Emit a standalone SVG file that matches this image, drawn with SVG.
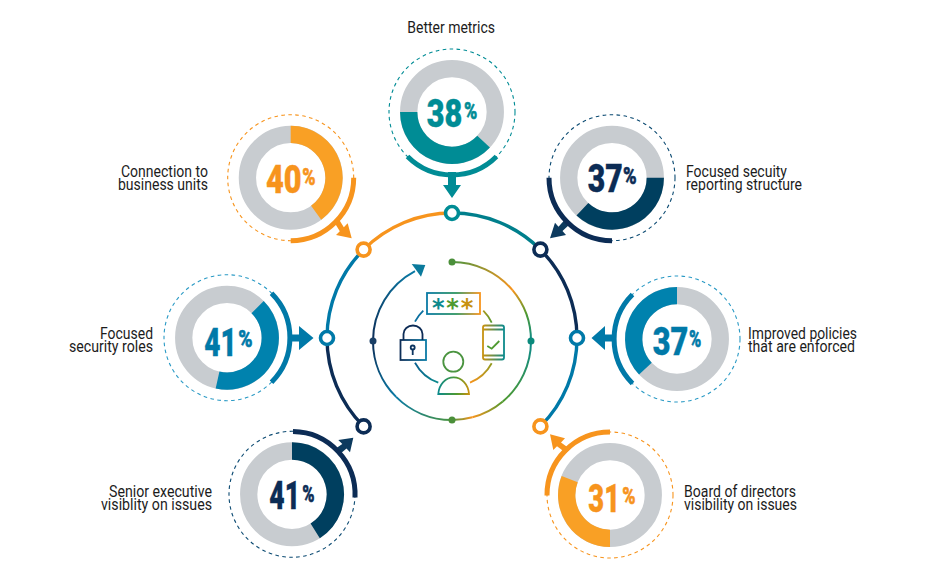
<svg xmlns="http://www.w3.org/2000/svg" width="940" height="582" viewBox="0 0 940 582">
<style>
text{font-family:"Roboto","Liberation Sans",sans-serif}
.lb{font-size:16px;font-weight:400;fill:#1c1c1c}
.n{font-size:38px;font-weight:900;stroke:currentColor;stroke-width:.4}
.p{font-size:23px;font-weight:900;stroke:currentColor;stroke-width:.5}
.g{fill:none;stroke:#c8ccd0;stroke-width:17.3}
.v{fill:none;stroke-width:17.3}
.d{fill:none;stroke-width:1.1;stroke-dasharray:3.6 3.4}
.t{fill:none;stroke-width:5}
.r{fill:none;stroke-width:3.4}
.h{fill:#fff;stroke-width:3.6}
.i{fill:none;stroke-width:2}
.ic{fill:none;stroke-width:1.8}
.teal{color:#008c95}.or{color:#f7941d}.nv{color:#0c2c55}.bl{color:#0079a8}
.st{stroke:currentColor}.fl{fill:currentColor}
</style>
<defs>
<linearGradient id="s1" gradientUnits="userSpaceOnUse" x1="452" y1="262" x2="512" y2="290"><stop offset="0" stop-color="#4b9440"/><stop offset="1" stop-color="#f7941d"/></linearGradient>
<linearGradient id="s2" gradientUnits="userSpaceOnUse" x1="512" y1="290" x2="531" y2="341"><stop offset="0" stop-color="#f7941d"/><stop offset=".5" stop-color="#4f9a30"/><stop offset="1" stop-color="#0b8a8c"/></linearGradient>
<linearGradient id="s3" gradientUnits="userSpaceOnUse" x1="531" y1="341" x2="503" y2="401"><stop offset="0" stop-color="#0b8a8c"/><stop offset="1" stop-color="#4f9a30"/></linearGradient>
<linearGradient id="s4" gradientUnits="userSpaceOnUse" x1="503" y1="401" x2="472" y2="417"><stop offset="0" stop-color="#4f9a30"/><stop offset="1" stop-color="#f7941d"/></linearGradient>
<linearGradient id="s5" gradientUnits="userSpaceOnUse" x1="472" y1="417" x2="452" y2="420"><stop offset="0" stop-color="#f7941d"/><stop offset="1" stop-color="#4b9440"/></linearGradient>
<linearGradient id="s6" gradientUnits="userSpaceOnUse" x1="452" y1="420" x2="396" y2="397"><stop offset="0" stop-color="#4b9440"/><stop offset="1" stop-color="#0a7aa5"/></linearGradient>
<linearGradient id="s7" gradientUnits="userSpaceOnUse" x1="396" y1="397" x2="373" y2="341"><stop offset="0" stop-color="#0a7aa5"/><stop offset="1" stop-color="#0d2c56"/></linearGradient>
<linearGradient id="s8" gradientUnits="userSpaceOnUse" x1="373" y1="341" x2="415" y2="272"><stop offset="0" stop-color="#0d2c56"/><stop offset="1" stop-color="#0a7aa5"/></linearGradient>
<linearGradient id="ib" gradientUnits="userSpaceOnUse" x1="427" y1="0" x2="480" y2="0"><stop offset="0" stop-color="#0a7aa5"/><stop offset=".55" stop-color="#2f9560"/><stop offset="1" stop-color="#f7941d"/></linearGradient>
<linearGradient id="il" gradientUnits="userSpaceOnUse" x1="400" y1="0" x2="426" y2="0"><stop offset="0" stop-color="#0d2c56"/><stop offset="1" stop-color="#0a7aa5"/></linearGradient>
<linearGradient id="ip" gradientUnits="userSpaceOnUse" x1="483" y1="0" x2="504" y2="0"><stop offset="0" stop-color="#c8920f"/><stop offset="1" stop-color="#0b8a8c"/></linearGradient>
<linearGradient id="iu" gradientUnits="userSpaceOnUse" x1="438" y1="0" x2="469" y2="0"><stop offset="0" stop-color="#0b8a8c"/><stop offset=".6" stop-color="#4f9a30"/><stop offset="1" stop-color="#c8920f"/></linearGradient>
<linearGradient id="ia" gradientUnits="userSpaceOnUse" x1="484" y1="311" x2="492" y2="323"><stop offset="0" stop-color="#a9991c"/><stop offset="1" stop-color="#4f9a30"/></linearGradient>
<linearGradient id="ic" gradientUnits="userSpaceOnUse" x1="492" y1="363" x2="470" y2="383"><stop offset="0" stop-color="#8f9a20"/><stop offset="1" stop-color="#f7941d"/></linearGradient>
<linearGradient id="id" gradientUnits="userSpaceOnUse" x1="438" y1="383" x2="415" y2="363"><stop offset="0" stop-color="#0b8a8c"/><stop offset="1" stop-color="#0a5f90"/></linearGradient>
</defs>

<g id="connectors">
<g id="outer-ring">
<path class="r" stroke="#f7941d" d="M363.600 249.600A125 125 0 0 1 452 213"/>
<path class="r" stroke="#007f8c" d="M452 213A125 125 0 0 1 540.400 249.600"/>
<path class="r" stroke="#0c2c55" d="M540.400 249.600A125 125 0 0 1 577 338"/>
<path class="r" stroke="#0079a8" d="M577 338A125 125 0 0 1 540.400 426.400"/>
<path class="r" stroke="#0c2c55" d="M363.600 426.400A125 125 0 0 1 327 338"/>
<path class="r" stroke="#0079a8" d="M327 338A125 125 0 0 1 363.600 249.600"/>
</g>
<g id="arrows">
<path fill="#008c95" d="M448 172H456V185H461L452 198 443 185H448Z"/>
<path fill="#f7941d" d="M334 221.700L338.300 218.300 343.800 227.200 347.700 223.300 351.700 238.300 336 235 339.800 231.200Z"/>
<path fill="#0c3a5e" d="M565 219.500L570 224 562.500 231 566 235 550 238.300 555 222.700 558.500 226.800Z"/>
<path fill="#0079a8" d="M290 334.500H299V326L313.500 338 299 350V341.500H290Z"/>
<path fill="#0079a8" d="M612 334.500H605V326L591.500 338 605 350V341.500H612Z"/>
<path fill="#f7941d" d="M570 449L566 453 557 446.300 553.300 450 550 434.300 565 438.300 561 442.500Z"/>
<path fill="#0c3a5e" d="M335 449L340 454 346.500 448.500 350 452.300 353.300 437.700 338.300 440 342.300 444Z"/>
</g>
<g id="inner-ring">
<path class="i" stroke="url(#s1)" d="M452 262A79 79 0 0 1 512.500 290.200"/>
<path class="i" stroke="url(#s2)" d="M512.500 290.200A79 79 0 0 1 531 341"/>
<path class="i" stroke="url(#s3)" d="M531 341A79 79 0 0 1 502.800 401.500"/>
<path class="i" stroke="url(#s4)" d="M502.800 401.500A79 79 0 0 1 472.400 417.300"/>
<path class="i" stroke="url(#s5)" d="M472.400 417.300A79 79 0 0 1 452 420"/>
<path class="i" stroke="url(#s6)" d="M452 420A79 79 0 0 1 396.100 396.900"/>
<path class="i" stroke="url(#s7)" d="M396.100 396.900A79 79 0 0 1 373 341"/>
<path class="i" stroke="url(#s8)" d="M373 341A79 79 0 0 1 415 271.200"/>
<path fill="#0a7a9c" d="M411.700 264L425.300 265 421 276.700z"/>
<circle cx="452" cy="262" r="3.500" fill="#4b8f3a"/>
<circle cx="531" cy="341" r="3.500" fill="#0b8a7c"/>
<circle cx="452" cy="420" r="3.500" fill="#4b8f3a"/>
<circle cx="373" cy="341" r="3.500" fill="#1a3f66"/>
</g>
</g>

<g id="center-icon">
<path class="ic" stroke="#0a6f9f" d="M415 321.700A43 43 0 0 1 423.300 310.700"/>
<path class="ic" stroke="url(#ia)" d="M483.300 310.700A43 43 0 0 1 491.700 322.700"/>
<path class="ic" stroke="url(#ic)" d="M491.700 363.300A43 43 0 0 1 470 382.700"/>
<path class="ic" stroke="url(#id)" d="M438.300 382.700A43 43 0 0 1 415 362.700"/>
<rect x="427" y="293" width="53" height="21" stroke="url(#ib)" fill="none" stroke-width="1.800"/>
<text x="432" y="316" font-size="24" font-weight="700" letter-spacing="1.800" style="font-family:'DejaVu Sans',sans-serif"><tspan fill="#0b8a8c">*</tspan><tspan fill="#4f9a30">*</tspan><tspan fill="#c8920f">*</tspan></text>
<rect x="400.500" y="340" width="25.500" height="20" class="ic" stroke="url(#il)"/>
<path class="ic" stroke="#0d2c56" d="M403.500 340V334A9.500 8.500 0 0 1 422.500 334V340"/>
<circle cx="412.700" cy="347.500" r="2" class="ic" stroke="#0d3560"/>
<path class="ic" stroke="#0d3560" d="M412.700 349.500V355"/>
<rect x="483" y="325.500" width="21" height="34" rx="2" class="ic" stroke="url(#ip)"/>
<path class="ic" stroke="url(#ip)" d="M483 329.500H504M483 355.500H504"/>
<path class="ic" stroke="#4f9a30" d="M487.300 346L491.700 348.700 499.300 341"/>
<circle cx="453.300" cy="361.700" r="10" class="ic" stroke="#4b9440"/>
<path class="ic" stroke="url(#iu)" d="M438.300 394A15.400 18 0 0 1 469 394Z"/>
</g>

<g id="metric-top" class="teal">
<circle class="d st" cx="452" cy="112" r="63"/>
<circle class="g" cx="452" cy="112" r="43.300"/>
<path class="v st" d="M408.700 112A43.300 43.300 0 0 0 483.600 141.600"/>
<path class="t st" d="M407.500 156.500A63 63 0 0 0 496.500 156.500"/>
<text class="n fl" x="426.700" y="126.500" textLength="35.600" lengthAdjust="spacingAndGlyphs">38</text>
<text class="p fl" transform="translate(464 118.500) scale(.78 1)">%</text>
<text class="lb" x="407.300" y="33" textLength="87.700" lengthAdjust="spacingAndGlyphs">Better metrics</text>
<circle class="h st" cx="452" cy="213" r="6.500"/>
</g>

<g id="metric-upper-left" class="or">
<circle class="d st" cx="290.700" cy="177.700" r="63"/>
<circle class="g" cx="290.700" cy="177.700" r="43.300"/>
<path class="v" stroke="#f9a025" d="M290.700 134.400A43.300 43.300 0 0 1 316.150 212.730"/>
<path class="t st" d="M353.700 177.700A63 63 0 0 1 290.700 240.700"/>
<text class="n fl" x="266" y="193.300" textLength="35.700" lengthAdjust="spacingAndGlyphs">40</text>
<text class="p fl" transform="translate(302.300 184.500) scale(.78 1)">%</text>
<text class="lb" x="121" y="177" textLength="87" lengthAdjust="spacingAndGlyphs">Connection to</text>
<text class="lb" x="118" y="190" textLength="90" lengthAdjust="spacingAndGlyphs">business units</text>
<circle class="h st" cx="363.600" cy="249.600" r="6.500"/>
</g>

<g id="metric-upper-right" class="nv">
<circle class="d" stroke="#0b4a72" cx="612" cy="177.700" r="63"/>
<circle class="g" cx="612" cy="177.700" r="43.300"/>
<path class="v" stroke="#003f5f" d="M655.300 177.700A43.300 43.300 0 0 1 582.400 209.300"/>
<path class="t st" d="M549 177.700A63 63 0 0 0 612 240.700"/>
<text class="n fl" x="587.700" y="191.700" textLength="35" lengthAdjust="spacingAndGlyphs">37</text>
<text class="p fl" transform="translate(623 183.800) scale(.8 1)">%</text>
<text class="lb" x="686" y="177" textLength="101" lengthAdjust="spacingAndGlyphs">Focused secuity</text>
<text class="lb" x="686" y="190" textLength="116" lengthAdjust="spacingAndGlyphs">reporting structure</text>
<circle class="h st" cx="540.400" cy="249.600" r="6.500"/>
</g>

<g id="metric-left" class="bl">
<circle class="d" stroke="#2a9ac5" cx="227" cy="337.700" r="63"/>
<circle class="g" cx="227" cy="337.700" r="43.300"/>
<path class="v" stroke="#0082ae" d="M257.600 307.100A43.300 43.300 0 0 1 217.550 379.960"/>
<path class="t st" d="M271.500 293.200A63 63 0 0 1 271.500 382.200"/>
<text class="n fl" x="204.300" y="356" textLength="32.400" lengthAdjust="spacingAndGlyphs">41</text>
<text class="p fl" transform="translate(238.300 346.500) scale(.84 1)">%</text>
<text class="lb" x="100" y="339" textLength="53" lengthAdjust="spacingAndGlyphs">Focused</text>
<text class="lb" x="69" y="352" textLength="84" lengthAdjust="spacingAndGlyphs">security roles</text>
<circle class="h st" cx="327" cy="338" r="6.500"/>
</g>

<g id="metric-right" class="bl">
<circle class="d" stroke="#2a9ac5" cx="677" cy="339" r="63"/>
<circle class="g" cx="677" cy="339" r="43.300"/>
<path class="v" stroke="#0082ae" d="M677 295.700A43.300 43.300 0 0 0 645.400 368.600"/>
<path class="t st" d="M632.500 294.500A63 63 0 0 0 632.500 383.500"/>
<text class="n fl" x="652.700" y="355" textLength="35.600" lengthAdjust="spacingAndGlyphs">37</text>
<text class="p fl" transform="translate(689 346.500) scale(.72 1)">%</text>
<text class="lb" x="748" y="339" textLength="109" lengthAdjust="spacingAndGlyphs">Improved policies</text>
<text class="lb" x="748" y="352" textLength="107" lengthAdjust="spacingAndGlyphs">that are enforced</text>
<circle class="h st" cx="577" cy="338" r="6.500"/>
</g>

<g id="metric-lower-right" class="or">
<circle class="d st" cx="610" cy="495" r="63"/>
<circle class="g" cx="610" cy="495" r="43.300"/>
<path class="v" stroke="#f9a025" d="M610 538.300A43.300 43.300 0 0 1 569.700 479.100"/>
<path class="t st" d="M547 495.500A63 63 0 0 1 610 432"/>
<text class="n fl" x="588.300" y="511.700" textLength="31.700" lengthAdjust="spacingAndGlyphs">31</text>
<text class="p fl" transform="translate(622.300 503.800) scale(.78 1)">%</text>
<text class="lb" x="684" y="497" textLength="112" lengthAdjust="spacingAndGlyphs">Board of directors</text>
<text class="lb" x="684" y="510" textLength="113" lengthAdjust="spacingAndGlyphs">visibility on issues</text>
<circle class="h st" cx="540.400" cy="426.400" r="6.500"/>
</g>

<g id="metric-lower-left" class="nv">
<circle class="d" stroke="#0b4a72" cx="292" cy="494.300" r="63"/>
<circle class="g" cx="292" cy="494.300" r="43.300"/>
<path class="v" stroke="#003f5f" d="M292 451A43.300 43.300 0 0 1 315.200 530.900"/>
<path class="t st" d="M293 431.500A63 63 0 0 1 355 497.500"/>
<text class="n fl" x="269.300" y="509" textLength="30.700" lengthAdjust="spacingAndGlyphs">41</text>
<text class="p fl" transform="translate(302.300 501.500) scale(.72 1)">%</text>
<text class="lb" x="109" y="497" textLength="103" lengthAdjust="spacingAndGlyphs">Senior executive</text>
<text class="lb" x="101" y="510" textLength="111" lengthAdjust="spacingAndGlyphs">visiblity on issues</text>
<circle class="h st" cx="363.600" cy="426.400" r="6.500"/>
</g>
</svg>
